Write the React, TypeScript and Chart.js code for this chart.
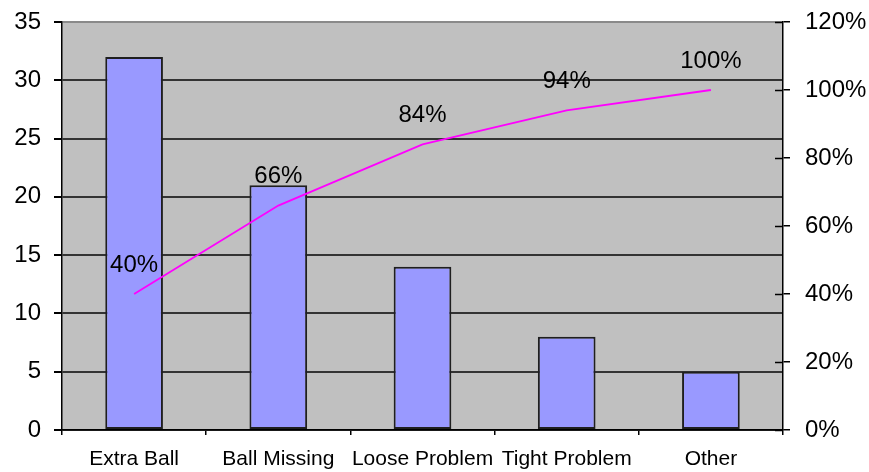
import React, { useEffect, useRef } from "react";
import { Chart, registerables } from "chart.js";

Chart.register(...registerables);

// Defect categories and counts (left axis)
const categories = ["Extra Ball", "Ball Missing", "Loose Problem", "Tight Problem", "Other"];
const counts = [32, 21, 14, 8, 5];
// Cumulative share of defects, in percent (right axis)
const cumulativePct = [40, 66, 84, 94, 100];

const FONT = "'Liberation Sans', Arial, Helvetica, sans-serif";

const plotBackground = {
  id: "plotBackground",
  beforeDraw(chart: any) {
    const { ctx, chartArea } = chart;
    ctx.save();
    ctx.fillStyle = "#C0C0C0";
    ctx.fillRect(chartArea.left, chartArea.top, chartArea.right - chartArea.left, chartArea.bottom - chartArea.top);
    ctx.restore();
  },
};

// Right-axis tick marks cross the axis line; draw the inner half
const innerRightTicks = {
  id: "innerRightTicks",
  afterDraw(chart: any) {
    const { ctx, chartArea } = chart;
    const s = chart.scales.y1;
    ctx.save();
    ctx.strokeStyle = "#000";
    ctx.lineWidth = 1.5;
    s.ticks.forEach((t: any) => {
      const y = Math.round(s.getPixelForValue(t.value)) + 0.5;
      ctx.beginPath();
      ctx.moveTo(chartArea.right - 8, y);
      ctx.lineTo(chartArea.right, y);
      ctx.stroke();
    });
    ctx.restore();
  },
};

// Percentage labels above the cumulative line points
const pctLabels = {
  id: "pctLabels",
  afterDatasetsDraw(chart: any) {
    const { ctx } = chart;
    const meta = chart.getDatasetMeta(1);
    ctx.save();
    ctx.fillStyle = "#000";
    ctx.font = `24px ${FONT}`;
    ctx.textAlign = "center";
    ctx.textBaseline = "middle";
    meta.data.forEach((pt: any, i: number) => {
      ctx.fillText(`${cumulativePct[i]}%`, pt.x, pt.y - 29);
    });
    ctx.restore();
  },
};

const fitVertical = (width: number) => (s: any) => {
  s.width = width;
  s.paddingTop = 0;
  s.paddingBottom = 0;
};

export default function App() {
  const ref = useRef<HTMLCanvasElement>(null);

  useEffect(() => {
    if (!ref.current) return;
    const chart = new Chart(ref.current, {
      type: "bar",
      data: {
        labels: categories,
        datasets: [
          {
            type: "bar",
            data: counts,
            backgroundColor: "#9999FF",
            borderColor: "#1f1f1f",
            borderWidth: 2,
            borderSkipped: false,
            barPercentage: 0.4,
            categoryPercentage: 1,
            yAxisID: "y",
            order: 2,
          },
          {
            type: "line",
            data: cumulativePct,
            borderColor: "#FF00FF",
            borderWidth: 1.8,
            pointRadius: 0,
            tension: 0,
            fill: false,
            yAxisID: "y1",
            order: 1,
          },
        ] as any,
      },
      options: {
        animation: false,
        responsive: false,
        maintainAspectRatio: false,
        layout: { padding: { top: 22, left: 0, right: 0, bottom: 0 } },
        plugins: { legend: { display: false }, tooltip: { enabled: false }, title: { display: false } },
        scales: {
          x: {
            offset: true,
            afterFit: (s: any) => { s.height = 42; },
            grid: { offset: true, drawOnChartArea: false, tickLength: 5, color: "#000", lineWidth: 1.5 },
            border: { color: "#000", width: 1.5 },
            ticks: { color: "#000", font: { family: FONT, size: 21 }, padding: 12, maxRotation: 0, autoSkip: false },
          },
          y: {
            position: "left",
            min: 0,
            max: 35,
            afterFit: fitVertical(62),
            ticks: { stepSize: 5, color: "#000", font: { family: FONT, size: 24 }, padding: 13 },
            grid: {
              color: (c: any) => (c.tick && c.tick.value === 35 ? "#8a8a8a" : "#333333"),
              lineWidth: 2,
              tickLength: 8,
              tickColor: "#000",
            },
            border: { color: "#000", width: 1.5 },
          },
          y1: {
            position: "right",
            min: 0,
            max: 120,
            afterFit: fitVertical(86),
            ticks: { stepSize: 20, color: "#000", font: { family: FONT, size: 24 }, padding: 15, callback: (v: any) => `${v}%` },
            grid: { drawOnChartArea: false, tickLength: 7, tickColor: "#000", lineWidth: 1.5 },
            border: { color: "#000", width: 1.5 },
          },
        },
      } as any,
      plugins: [plotBackground, innerRightTicks, pctLabels],
    });
    return () => chart.destroy();
  }, []);

  return (
    <div style={{ position: "fixed", left: 0, top: 0, width: 869, height: 472, background: "#fff" }}>
      <canvas ref={ref} width={869} height={472} style={{ display: "block" }} />
    </div>
  );
}
